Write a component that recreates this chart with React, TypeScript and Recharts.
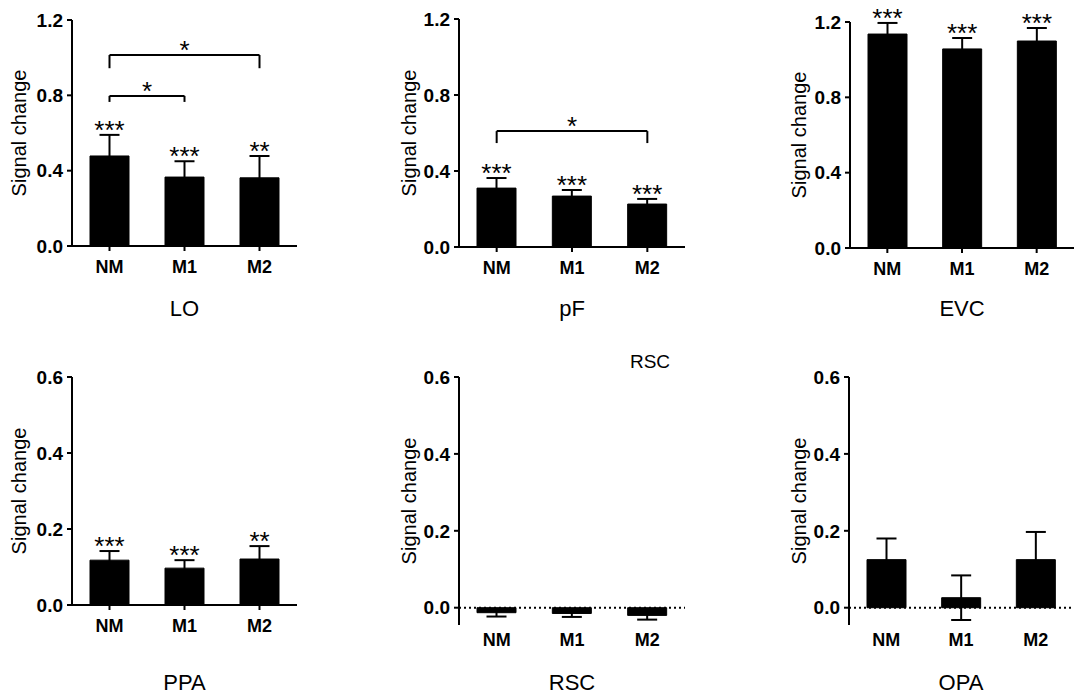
import React from "react";
import {
  Bar,
  ComposedChart,
  ErrorBar,
  LabelList,
  ReferenceLine,
  XAxis,
  YAxis,
} from "recharts";

const conditions = ["NM", "M1", "M2"];

const loMean = [0.478, 0.366, 0.362];
const loSem = [0.112, 0.084, 0.116];
const loStars = ["***", "***", "**"];

const pfMean = [0.31, 0.268, 0.226];
const pfSem = [0.053, 0.032, 0.027];
const pfStars = ["***", "***", "***"];

const evcMean = [1.136, 1.057, 1.099];
const evcSem = [0.059, 0.058, 0.069];
const evcStars = ["***", "***", "***"];

const ppaMean = [0.118, 0.097, 0.121];
const ppaSem = [0.024, 0.021, 0.034];
const ppaStars = ["***", "***", "**"];

const rscMean = [-0.013, -0.015, -0.02];
const rscSem = [0.01, 0.009, 0.011];
const rscStars = ["", "", ""];

const opaMean = [0.125, 0.026, 0.125];
const opaSem = [0.055, 0.058, 0.072];
const opaStars = ["", "", ""];

const topTicks = [0, 0.4, 0.8, 1.2];
const bottomTicks = [0, 0.2, 0.4, 0.6];

// significance brackets: from / to category, height, drop of the end ticks
const loBrackets = [
  { from: "NM", to: "M2", y: 1.014, drop: 0.07, mark: "*" },
  { from: "NM", to: "M1", y: 0.797, drop: 0.032, mark: "*" },
];
const pfBrackets = [{ from: "NM", to: "M2", y: 0.61, drop: 0.063, mark: "*" }];

const FONT = "'Liberation Sans', Arial, Helvetica, sans-serif";
const axisStroke = { stroke: "#000", strokeWidth: 2 };

function Panel({
  title,
  mean,
  sem,
  stars,
  brackets = [],
  ticks,
  domain,
  left,
  top,
  height,
  mt,
  mb,
  mr,
  titleY,
  labelX,
  floating = false,
}) {
  const data = conditions.map((c, i) => ({ name: c, mean: mean[i], sem: sem[i] }));

  const starLabel = (p) => {
    const i = p.index;
    if (!stars[i]) return null;
    const ppu = Number(p.height) / Number(p.value);
    const errTop = Number(p.y) - sem[i] * ppu;
    return (
      <text
        x={Number(p.x) + Number(p.width) / 2}
        y={errTop + 4}
        textAnchor="middle"
        fontSize={26}
        fill="#000"
      >
        {stars[i]}
      </text>
    );
  };

  return (
    <div style={{ position: "absolute", left, top }}>
      <ComposedChart
        width={300}
        height={height}
        data={data}
        margin={{ top: mt, right: mr, bottom: mb, left: 0 }}
        barSize={39}
      >
        <XAxis
          dataKey="name"
          height={30}
          interval={0}
          axisLine={floating ? false : axisStroke}
          tickLine={floating ? false : axisStroke}
          tickSize={floating ? 0 : 5}
          tickMargin={floating ? 8 : 9}
          tick={{ fill: "#000", fontSize: 18, fontWeight: 700 }}
          label={(p) => {
            const vb = p.viewBox;
            return (
              <text
                x={vb.x + vb.width / 2}
                y={titleY}
                textAnchor="middle"
                fontSize={22}
                fill="#000"
              >
                {title}
              </text>
            );
          }}
        />
        <YAxis
          width={72}
          domain={domain}
          ticks={ticks}
          allowDataOverflow
          axisLine={axisStroke}
          tickLine={axisStroke}
          tickSize={5}
          tickMargin={4}
          tickFormatter={(v) => v.toFixed(1)}
          tick={{ fill: "#000", fontSize: 19, fontWeight: 700 }}
          label={(p) => {
            const vb = p.viewBox;
            return (
              <text
                transform={`translate(${vb.x + labelX},${vb.y + vb.height / 2}) rotate(-90)`}
                textAnchor="middle"
                dominantBaseline="central"
                fontSize={20}
                fill="#000"
              >
                Signal change
              </text>
            );
          }}
        />
        {floating && (
          <ReferenceLine y={0} stroke="#000" strokeWidth={2} strokeDasharray="2 3" />
        )}
        <Bar dataKey="mean" fill="#000" stroke="#000" isAnimationActive={false}>
          <ErrorBar dataKey="sem" width={10} stroke="#000" strokeWidth={2} />
          <LabelList dataKey="mean" content={starLabel} />
        </Bar>
        {brackets.map((b, k) => (
          <ReferenceLine
            key={`h${k}`}
            segment={[
              { x: b.from, y: b.y },
              { x: b.to, y: b.y },
            ]}
            stroke="#000"
            strokeWidth={2}
            label={(p) => {
              const vb = p.viewBox;
              return (
                <text
                  x={vb.x + vb.width / 2}
                  y={vb.y + 4}
                  textAnchor="middle"
                  fontSize={26}
                  fill="#000"
                >
                  {b.mark}
                </text>
              );
            }}
          />
        ))}
        {brackets.map((b, k) => (
          <ReferenceLine
            key={`l${k}`}
            segment={[
              { x: b.from, y: b.y },
              { x: b.from, y: b.y - b.drop },
            ]}
            stroke="#000"
            strokeWidth={2}
          />
        ))}
        {brackets.map((b, k) => (
          <ReferenceLine
            key={`r${k}`}
            segment={[
              { x: b.to, y: b.y },
              { x: b.to, y: b.y - b.drop },
            ]}
            stroke="#000"
            strokeWidth={2}
          />
        ))}
      </ComposedChart>
    </div>
  );
}

export default function App() {
  return (
    <div
      style={{
        position: "absolute",
        left: 0,
        top: 0,
        width: 1084,
        height: 698,
        background: "#fff",
        fontFamily: FONT,
      }}
    >
      <Panel title="LO" mean={loMean} sem={loSem} stars={loStars} brackets={loBrackets}
        ticks={topTicks} domain={[0, 1.2]} left={0} top={0} height={330}
        mt={20} mb={54} mr={3} titleY={316} labelX={19} />
      <Panel title="pF" mean={pfMean} sem={pfSem} stars={pfStars} brackets={pfBrackets}
        ticks={topTicks} domain={[0, 1.2]} left={387} top={0} height={330}
        mt={19} mb={53} mr={2} titleY={316} labelX={22} />
      <Panel title="EVC" mean={evcMean} sem={evcSem} stars={evcStars}
        ticks={topTicks} domain={[0, 1.2]} left={778} top={0} height={330}
        mt={22} mb={52} mr={4} titleY={316} labelX={21} />
      <Panel title="PPA" mean={ppaMean} sem={ppaSem} stars={ppaStars}
        ticks={bottomTicks} domain={[0, 0.6]} left={0} top={360} height={338}
        mt={17} mb={63} mr={3} titleY={330} labelX={19} />
      <Panel title="RSC" mean={rscMean} sem={rscSem} stars={rscStars}
        ticks={bottomTicks} domain={[-0.045, 0.6]} left={387} top={360} height={338}
        mt={17} mb={43} mr={2} titleY={330} labelX={22} floating />
      <Panel title="OPA" mean={opaMean} sem={opaSem} stars={opaStars}
        ticks={bottomTicks} domain={[-0.045, 0.6]} left={777} top={360} height={338}
        mt={17} mb={43} mr={4} titleY={330} labelX={22} floating />
      <div
        style={{
          position: "absolute",
          left: 650,
          top: 351,
          transform: "translateX(-50%)",
          fontSize: 19,
          color: "#000",
        }}
      >
        RSC
      </div>
    </div>
  );
}
